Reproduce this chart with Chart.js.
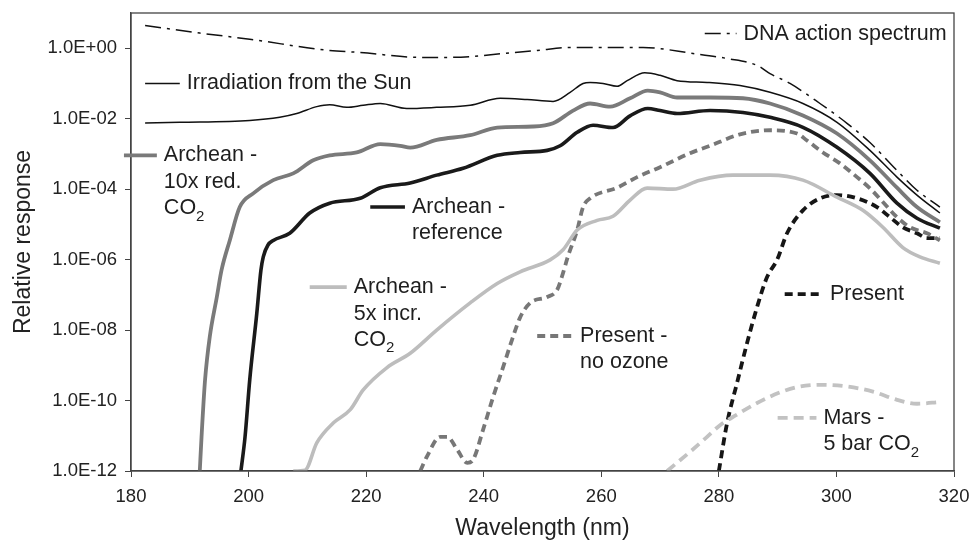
<!DOCTYPE html>
<html>
<head>
<meta charset="utf-8">
<script src="https://cdn.jsdelivr.net/npm/chart.js@4.4.1/dist/chart.umd.min.js"></script>
<style>
  html, body { margin: 0; padding: 0; background: #fff; }
  #wrap { width: 972px; height: 543px; }
</style>
</head>
<body>
<div id="wrap"><canvas id="chart" width="972" height="543"></canvas></div>
<script>
const FONT = '"Liberation Sans", Arial, Helvetica, sans-serif';

// wavelength (nm) / relative response
const dnaWl = [182.4, 191.7, 200.2, 213.8, 219.0, 229.2, 233.8, 237.7, 243.3, 249.1, 254.7, 260.3, 267.1, 275.6, 281.4, 286.6, 288.7, 292.1, 297.2, 301.8, 305.7, 310.3, 313.7, 317.6];
const dnaVal = [4.4, 2.7, 1.8, 0.86, 0.76, 0.55, 0.55, 0.58, 0.71, 0.86, 1.05, 1.05, 1.05, 0.71, 0.51, 0.32, 0.19, 0.1, 0.027, 7.4e-3, 2.1e-3, 3.4e-4, 9.3e-5, 3.1e-5];

const sunWl = [182.4, 188.3, 200.2, 205.3, 208.2, 211.6, 213.8, 216.7, 219.5, 222.4, 226.9, 232.0, 237.7, 242.8, 247.4, 251.8, 254.7, 256.9, 258.1, 260.3, 262.7, 264.4, 267.4, 270.0, 272.9, 278.0, 283.6, 288.7, 294.3, 300.1, 305.7, 310.3, 313.7, 317.6];
const sunVal = [7.6e-3, 7.9e-3, 8.9e-3, 0.011, 0.014, 0.022, 0.025, 0.021, 0.024, 0.027, 0.0195, 0.021, 0.024, 0.038, 0.035, 0.031, 0.056, 0.10, 0.107, 0.10, 0.083, 0.12, 0.20, 0.17, 0.12, 0.107, 0.087, 0.056, 0.027, 7.9e-3, 1.26e-3, 2.2e-4, 6.8e-5, 2.1e-5];

const redWl = [191.7, 192.0, 192.6, 193.4, 194.6, 195.4, 196.8, 198.5, 200.8, 204.2, 207.6, 211.0, 213.8, 218.4, 222.4, 225.8, 227.5, 232.0, 237.7, 242.3, 248.4, 251.8, 255.2, 258.1, 261.5, 264.9, 267.9, 270.0, 272.9, 278.5, 284.1, 288.7, 294.3, 300.1, 305.7, 310.3, 313.7, 317.6];
const redVal = [1e-12, 9.3e-12, 3.9e-10, 6.5e-9, 8.7e-8, 5.0e-7, 3.5e-6, 3.1e-5, 7.6e-5, 1.8e-4, 2.8e-4, 6.6e-4, 9.1e-4, 1.1e-3, 1.9e-3, 1.7e-3, 1.5e-3, 2.5e-3, 3.4e-3, 5.6e-3, 6.0e-3, 7.4e-3, 0.017, 0.027, 0.022, 0.038, 0.063, 0.056, 0.040, 0.040, 0.038, 0.027, 0.0124, 3.8e-3, 6.6e-4, 1.1e-4, 3.1e-5, 1.15e-5];

const refWl = [198.7, 199.4, 200.2, 201.4, 202.1, 202.5, 203.3, 204.2, 207.0, 210.4, 213.8, 219.0, 222.4, 227.5, 232.0, 236.5, 242.3, 246.2, 250.8, 253.0, 255.9, 258.6, 262.0, 264.9, 267.9, 270.0, 272.9, 278.5, 284.1, 288.7, 294.3, 300.1, 305.7, 310.3, 313.7, 317.6];
const refVal = [1e-12, 9.3e-12, 3.9e-10, 3.0e-8, 5.0e-7, 1.2e-6, 2.6e-6, 3.5e-6, 5.6e-6, 2.1e-5, 4.0e-5, 5.5e-5, 1.1e-4, 1.5e-4, 2.5e-4, 3.9e-4, 9.1e-4, 1.1e-3, 1.26e-3, 1.7e-3, 4.1e-3, 6.5e-3, 5.6e-3, 0.012, 0.0195, 0.017, 0.014, 0.017, 0.015, 0.0109, 5.7e-3, 1.54e-3, 2.8e-4, 4.0e-5, 1.5e-5, 7.8e-6];

const incWl = [207.6, 209.6, 211.6, 214.4, 217.3, 219.5, 223.5, 227.5, 232.0, 237.7, 242.3, 246.2, 251.3, 253.5, 255.9, 259.3, 262.0, 264.9, 267.8, 272.2, 276.8, 282.4, 288.7, 294.3, 300.1, 304.5, 307.9, 311.3, 314.2, 317.6];
const incVal = [1e-12, 1.05e-12, 6.3e-12, 2.3e-11, 5.5e-11, 2.0e-10, 8.5e-10, 2.2e-9, 1.0e-8, 5.9e-8, 2.1e-7, 4.5e-7, 9.8e-7, 1.9e-6, 6.9e-6, 1.3e-5, 1.7e-5, 4.9e-5, 1.07e-4, 1.0e-4, 1.8e-4, 2.5e-4, 2.5e-4, 1.8e-4, 5.9e-5, 2.5e-5, 8.3e-6, 2.2e-6, 1.2e-6, 7.9e-7];

const noOzWl = [229.2, 230.3, 232.6, 233.8, 235.5, 237.2, 238.2, 239.9, 241.6, 243.3, 244.8, 246.2, 247.9, 250.8, 252.5, 253.5, 254.3, 255.9, 256.9, 258.1, 262.7, 266.1, 270.0, 275.1, 278.5, 283.6, 288.7, 293.3, 295.0, 297.7, 300.6, 303.5, 305.7, 307.9, 310.3, 312.5, 315.4, 317.6];
const noOzVal = [1e-12, 2.5e-12, 9.3e-12, 9.3e-12, 4.0e-12, 1.7e-12, 2.1e-12, 1.5e-11, 1.26e-10, 8.9e-10, 5.2e-9, 2.3e-8, 5.9e-8, 8.7e-8, 1.4e-7, 4.2e-7, 1.2e-6, 6.9e-6, 3.1e-5, 5.5e-5, 1.1e-4, 2.2e-4, 4.2e-4, 1.05e-3, 1.7e-3, 3.6e-3, 4.7e-3, 3.8e-3, 2.4e-3, 1.1e-3, 5.4e-4, 2.2e-4, 1.06e-4, 4.3e-5, 1.6e-5, 8.3e-6, 5.6e-6, 3.5e-6];

const presWl = [280.0, 281.4, 283.1, 284.8, 286.5, 288.2, 289.9, 291.6, 294.3, 297.2, 300.1, 303.5, 306.9, 309.1, 311.3, 313.7, 315.4, 317.6];
const presVal = [1e-12, 2.3e-11, 3.2e-10, 4.3e-9, 4.5e-8, 3.2e-7, 9.8e-7, 5.6e-6, 2.5e-5, 5.5e-5, 6.8e-5, 5.5e-5, 3.1e-5, 1.6e-5, 8.3e-6, 5.6e-6, 4.1e-6, 4.1e-6];

const marsWl = [271.2, 275.1, 278.0, 280.2, 283.1, 286.5, 290.4, 293.8, 297.7, 301.8, 306.2, 310.3, 313.7, 317.6];
const marsVal = [1e-12, 3.5e-12, 9.3e-12, 2.0e-11, 4.0e-11, 8.5e-11, 1.7e-10, 2.5e-10, 2.8e-10, 2.5e-10, 1.8e-10, 1.05e-10, 8.1e-11, 9.1e-11];

const yTicks = [1e-12, 1e-10, 1e-8, 1e-6, 1e-4, 1e-2, 1];
const yTickLabels = ["1.0E-12", "1.0E-10", "1.0E-08", "1.0E-06", "1.0E-04", "1.0E-02", "1.0E+00"];

function pts(wl, val) {
    return wl.map((x, i) => ({ x: x, y: val[i] }));
}

function line(label, wl, val, color, width, dash) {
    return {
        label: label,
        data: pts(wl, val),
        borderColor: color,
        borderWidth: width,
        borderDash: dash || [],
        pointRadius: 0,
        cubicInterpolationMode: "monotone",
        fill: false
    };
}

const datasets = [
    line("DNA action spectrum", dnaWl, dnaVal, "#111", 1.5, [16, 6, 3, 6]),
    line("Irradiation from the Sun", sunWl, sunVal, "#111", 1.5),
    line("Archean - 10x red. CO2", redWl, redVal, "#7a7a7a", 3.8),
    line("Archean - 5x incr. CO2", incWl, incVal, "#bdbdbd", 3.6),
    line("Present - no ozone", noOzWl, noOzVal, "#777", 3.8, [8, 5]),
    line("Mars - 5 bar CO2", marsWl, marsVal, "#c2c2c2", 3.8, [10, 6]),
    line("Present", presWl, presVal, "#161616", 3.8, [8, 5]),
    line("Archean - reference", refWl, refVal, "#1a1a1a", 3.6)
];

// in-plot labels: dataset index, sample line span (nm) and height (value)
const notes = [
    { ds: 0, from: 277.6, to: 283.0, at: 2.6, lines: ["DNA action spectrum"] },
    { ds: 1, from: 182.4, to: 188.3, at: 0.1, lines: ["Irradiation from the Sun"] },
    { ds: 2, from: 178.8, to: 184.4, at: 9.1e-4, lines: ["Archean -", "10x red.", "CO_2"] },
    { ds: 7, from: 220.7, to: 226.6, at: 3.1e-5, lines: ["Archean -", "reference"] },
    { ds: 3, from: 210.4, to: 216.7, at: 1.66e-7, lines: ["Archean -", "5x incr.", "CO_2"] },
    { ds: 4, from: 249.1, to: 255.2, at: 6.8e-9, lines: ["Present -", "no ozone"] },
    { ds: 6, from: 291.2, to: 297.7, at: 1.05e-7, lines: ["Present"] },
    { ds: 5, from: 290.0, to: 296.6, at: 3.2e-11, lines: ["Mars -", "5 bar CO_2"] }
];

const notesPlugin = {
    id: "notes",
    afterDatasetsDraw(chart) {
        const { ctx, chartArea: a, scales: { x, y } } = chart;
        ctx.save();
        ctx.strokeStyle = "#444";
        ctx.lineWidth = 1.3;
        ctx.strokeRect(a.left, a.top, a.right - a.left, a.bottom - a.top);

        notes.forEach(n => {
            const ds = chart.data.datasets[n.ds];
            const x0 = x.getPixelForValue(n.from);
            const x1 = x.getPixelForValue(n.to);
            const py = y.getPixelForValue(n.at);
            ctx.beginPath();
            ctx.setLineDash(ds.borderDash);
            ctx.lineWidth = ds.borderWidth;
            ctx.strokeStyle = ds.borderColor;
            ctx.moveTo(x0, py);
            ctx.lineTo(x1, py);
            ctx.stroke();
            ctx.setLineDash([]);

            ctx.fillStyle = "#1e1e1e";
            ctx.textBaseline = "middle";
            ctx.textAlign = "left";
            n.lines.forEach((txt, i) => {
                const ty = py + i * 26.5;
                const parts = txt.split("_");
                ctx.font = "21.5px " + FONT;
                ctx.fillText(parts[0], x1 + 7, ty);
                if (parts[1]) {
                    const w = ctx.measureText(parts[0]).width;
                    ctx.font = "15px " + FONT;
                    ctx.fillText(parts[1], x1 + 7 + w, ty + 8);
                }
            });
        });
        ctx.restore();
    }
};

function noPad(s) {
    s.paddingTop = 0;
    s.paddingBottom = 0;
    s.paddingLeft = 0;
    s.paddingRight = 0;
}

new Chart(document.getElementById("chart"), {
    type: "line",
    data: { datasets: datasets },
    plugins: [notesPlugin],
    options: {
        responsive: false,
        devicePixelRatio: 1,
        animation: false,
        layout: { padding: { left: 0, top: 13, right: 18, bottom: 0 } },
        plugins: { legend: { display: false }, tooltip: { enabled: false } },
        scales: {
            x: {
                type: "linear",
                min: 180,
                max: 320,
                afterFit: (s) => { s.height = 72; noPad(s); },
                ticks: { stepSize: 20, padding: 9, color: "#222", font: { family: FONT, size: 18.5 } },
                grid: { drawOnChartArea: false, tickLength: 6, color: "#444" },
                border: { color: "#444", width: 1.3 },
                title: {
                    display: true,
                    text: "Wavelength (nm)",
                    color: "#222",
                    font: { family: FONT, size: 23 },
                    padding: { top: 0, bottom: 1 }
                }
            },
            y: {
                type: "logarithmic",
                min: 1e-12,
                max: 10,
                afterFit: (s) => { s.width = 131; noPad(s); },
                afterBuildTicks: (s) => { s.ticks = yTicks.map(v => ({ value: v })); },
                ticks: {
                    autoSkip: false,
                    padding: 8,
                    color: "#222",
                    font: { family: FONT, size: 18.5 },
                    callback: (v, i) => yTickLabels[i]
                },
                grid: { drawOnChartArea: false, tickLength: 6, color: "#444" },
                border: { color: "#444", width: 1.3 },
                title: {
                    display: true,
                    text: "Relative response",
                    color: "#222",
                    font: { family: FONT, size: 23 },
                    padding: { top: 10, bottom: 0 }
                }
            }
        }
    }
});
</script>
</body>
</html>
